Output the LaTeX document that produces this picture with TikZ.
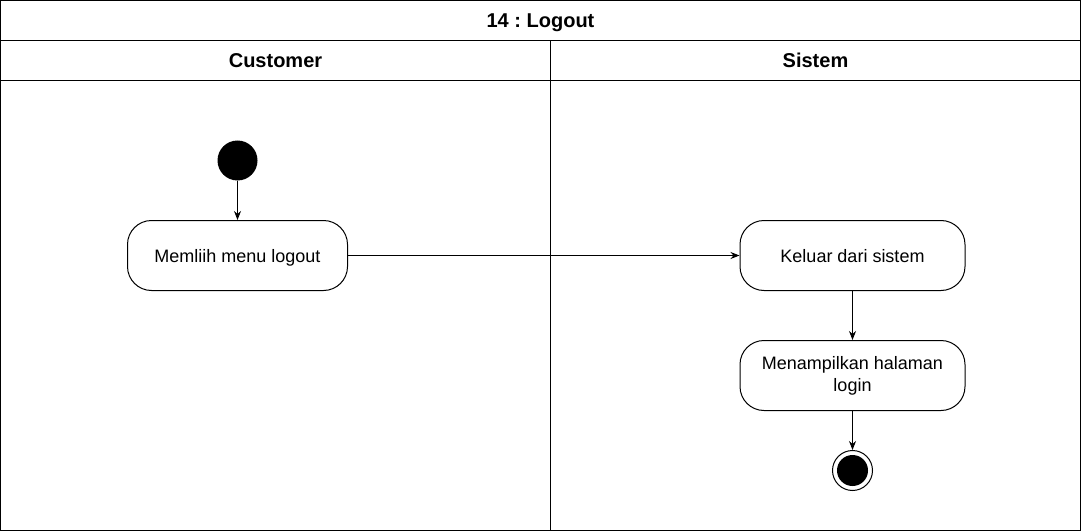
\documentclass[tikz,border=0pt]{standalone}
\usepackage{fontspec}
\setmainfont{Liberation Sans}
\usetikzlibrary{arrows.meta}
\frenchspacing
\tikzset{
  frame/.style={draw=black, line width=1pt},
  hdr/.style={font=\bfseries\fontsize{20}{24}\selectfont, inner sep=0pt, anchor=base},
  act/.style={draw=black, line width=1pt, rounded corners=24pt, fill=white,
    minimum height=70pt, align=center, font=\fontsize{18}{22}\selectfont, inner sep=2pt},
  oneline/.style={text height=13pt, text depth=0pt},
  arr/.style={draw=black, line width=1pt, -{Stealth[length=9pt,width=7pt]}},
  startnode/.style={circle, fill=black, minimum size=40pt, inner sep=0pt},
  endouter/.style={circle, draw=black, line width=1pt, fill=white, minimum size=40pt, inner sep=0pt},
  endinner/.style={circle, fill=black, minimum size=31pt, inner sep=0pt}
}
\begin{document}
\begin{tikzpicture}[x=1pt,y=-1pt]
\useasboundingbox (0,0) rectangle (1081,532);
% swimlane frame
\draw[frame] (0.5,0.5) rectangle (1080.5,530.5);
\coordinate (t1) at (0.5,40.5);
\coordinate (t2) at (1080.5,40.5);
\coordinate (h1) at (0.5,80.5);
\coordinate (h2) at (1080.5,80.5);
\coordinate (d1) at (550.5,40.5);
\coordinate (d2) at (550.5,530.5);
\draw[frame] (t1) -- (t2);
\draw[frame] (h1) -- (h2);
\draw[frame] (d1) -- (d2);
\node[hdr] (title) at (540.5,27.5) {14 : Logout};
\node[hdr] (cust) at (275.5,67.5) {Customer};
\node[hdr] (sis) at (815.5,67.5) {Sistem};
% activity nodes
\node[startnode] (start) at (237.5,160.5) {};
\node[act, oneline, minimum width=220pt] (a1) at (237.5,255.5) {Memliih menu logout};
\node[act, oneline, minimum width=225pt] (a2) at (852.5,255.5) {Keluar dari sistem};
\node[act, minimum width=225pt] (a3) at (852.5,375.5) {Menampilkan halaman\\login};
\node[endouter] (end) at (852.5,470.5) {};
\node[endinner] (endin) at (end.center) {};
% connectors
\draw[arr] (start) -- (a1);
\draw[arr] (a1) -- (a2);
\draw[arr] (a2) -- (a3);
\draw[arr] (a3) -- (end);
\end{tikzpicture}
\end{document}
